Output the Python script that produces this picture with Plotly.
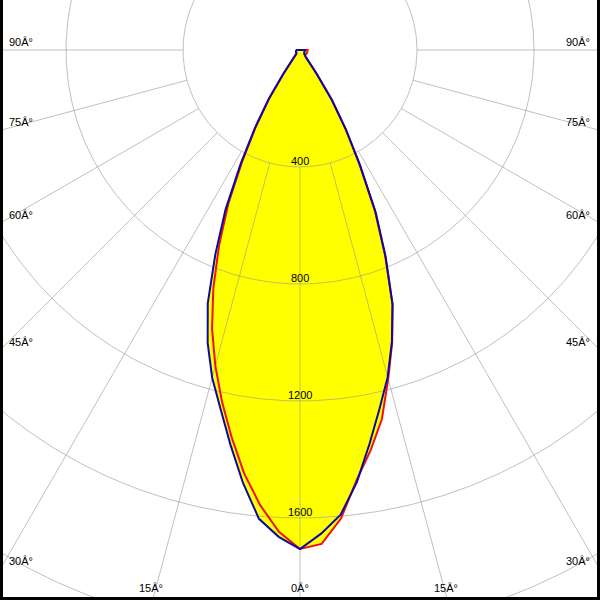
import numpy as np
import plotly.graph_objects as go

# ---- data (candela vs. gamma angle in degrees) ----
angles = [0, 2.5, 5, 7.5, 10, 12.5, 15, 17.5, 20, 22.5, 25, 27.5, 30, 32.5, 35,
          40, 45, 50, 55, 60, 65, 70, 75, 80, 85, 90]
blue_left = [1706, 1666, 1609, 1493, 1370, 1256, 1160, 1050, 922, 757, 603, 440, 310, 200, 100,
             30, 18, 15, 14, 14, 14, 14, 14, 14, 14, 14]
blue_right = [1706, 1655, 1595, 1490, 1368, 1256, 1158, 1045, 925, 765, 612, 445, 315, 205, 100,
              30, 19, 17, 17, 17, 17, 17, 17, 17, 17, 17]
red_left = [1706, 1649, 1562, 1461, 1345, 1232, 1118, 1000, 866, 723, 580, 425, 300, 195, 95,
            28, 17, 15, 14, 14, 14, 14, 14, 14, 14, 14]
red_right = [1706, 1690, 1608, 1483, 1390, 1293, 1165, 1048, 925, 760, 605, 440, 312, 200, 98,
             30, 22, 24, 25, 25, 26, 26, 26, 26, 26, 26]

rings = [400, 800, 1200, 1600, 2000, 2400]
ring_labels = ["400", "800", "1200", "1600"]
spoke_angles = [0, 15, 30, 45, 60, 75, 90]
side_labels = ["90Â°", "75Â°", "60Â°", "45Â°", "30Â°"]
side_label_angles = [90, 75, 60, 45, 30]
bottom_labels = ["15Â°", "0Â°", "15Â°"]
bottom_label_angles = [-15, 0, 15]

# ---- geometry helpers ----
W = H = 600
CX, CY = 300.0, 50.0          # pole position in pixels
PX_PER_CD = 117.0 / 400.0
CPP = 1.0 / PX_PER_CD         # candela per pixel


def curve_xy(left, right):
    g = np.radians(np.array(angles, dtype=float))
    L = np.array(left, dtype=float)
    R = np.array(right, dtype=float)
    xl = -L * np.sin(g)
    yl = -L * np.cos(g)
    xr = R * np.sin(g)
    yr = -R * np.cos(g)
    x = np.concatenate([xl[::-1], xr[1:]])
    y = np.concatenate([yl[::-1], yr[1:]])
    return x, y


fig = go.Figure()

bx, by = curve_xy(blue_left, blue_right)
rx, ry = curve_xy(red_left, red_right)

# yellow fills
for x, y in [(bx, by), (rx, ry)]:
    fig.add_trace(go.Scatter(x=np.append(x, x[0]), y=np.append(y, y[0]), mode="lines",
                             fill="toself", fillcolor="#ffff00",
                             line=dict(width=0, color="#ffff00"), hoverinfo="skip"))

# grid rings
t = np.linspace(0, 2 * np.pi, 721)
gx, gy = [], []
for R in rings:
    gx += list(R * np.cos(t)) + [None]
    gy += list(R * np.sin(t)) + [None]
# spokes (start at first ring)
for a in spoke_angles:
    for s in ([1] if a == 0 else [-1, 1]):
        ar = np.radians(a)
        gx += [s * rings[0] * np.sin(ar), s * 3000 * np.sin(ar), None]
        gy += [-rings[0] * np.cos(ar), -3000 * np.cos(ar), None]
fig.add_trace(go.Scatter(x=gx, y=gy, mode="lines",
                         line=dict(width=1, color="rgba(150,150,150,0.6)"),
                         hoverinfo="skip"))

# curves
fig.add_trace(go.Scatter(x=np.append(rx, rx[0]), y=np.append(ry, ry[0]), mode="lines",
                         line=dict(width=2, color="#ee1111"), hoverinfo="skip"))
fig.add_trace(go.Scatter(x=np.append(bx, bx[0]), y=np.append(by, by[0]), mode="lines",
                         line=dict(width=2, color="#0a0aa8"), hoverinfo="skip"))

annotations = []
font = dict(family="Liberation Sans", size=11, color="black")
for R, lab in zip(rings, ring_labels):
    annotations.append(dict(x=0, y=-R, xref="x", yref="y", text=lab, showarrow=False,
                            font=font, xanchor="center", yanchor="middle", yshift=6))

# side labels (left and right edges)
for a, lab in zip(side_label_angles, side_labels):
    ar = np.radians(a)
    y_edge = CY + CX / np.tan(ar) if a < 90 else CY
    py = y_edge - 8.5
    for px in (21, W - 22):
        annotations.append(dict(x=px / W, y=1 - py / H, xref="paper", yref="paper",
                                text=lab, showarrow=False, font=font,
                                xanchor="center", yanchor="middle"))
# bottom labels
for a, lab in zip(bottom_label_angles, bottom_labels):
    px = CX + (H - CY) * np.tan(np.radians(a)) - (1.5 if a != 0 else 0)
    annotations.append(dict(x=px / W, y=1 - 588 / H, xref="paper", yref="paper",
                            text=lab, showarrow=False, font=font,
                            xanchor="center", yanchor="middle"))

B = 3
shapes = [
    dict(type="rect", xref="paper", yref="paper", x0=0, x1=B / W, y0=0, y1=1,
         fillcolor="black", line=dict(width=0), layer="above"),
    dict(type="rect", xref="paper", yref="paper", x0=1 - B / W, x1=1, y0=0, y1=1,
         fillcolor="black", line=dict(width=0), layer="above"),
    dict(type="rect", xref="paper", yref="paper", x0=0, x1=1, y0=0, y1=B / H,
         fillcolor="black", line=dict(width=0), layer="above"),
]

fig.update_layout(
    width=W, height=H, autosize=False,
    margin=dict(l=0, r=0, t=0, b=0, pad=0),
    paper_bgcolor="white", plot_bgcolor="white",
    showlegend=False,
    xaxis=dict(range=[-CX * CPP, (W - CX) * CPP], visible=False, fixedrange=True),
    yaxis=dict(range=[-(H - CY) * CPP, CY * CPP], visible=False, fixedrange=True),
    annotations=annotations, shapes=shapes,
)

fig.write_html("out.html", config={"displayModeBar": False},
               post_script="document.body.style.margin='0';document.body.style.overflow='hidden';")
